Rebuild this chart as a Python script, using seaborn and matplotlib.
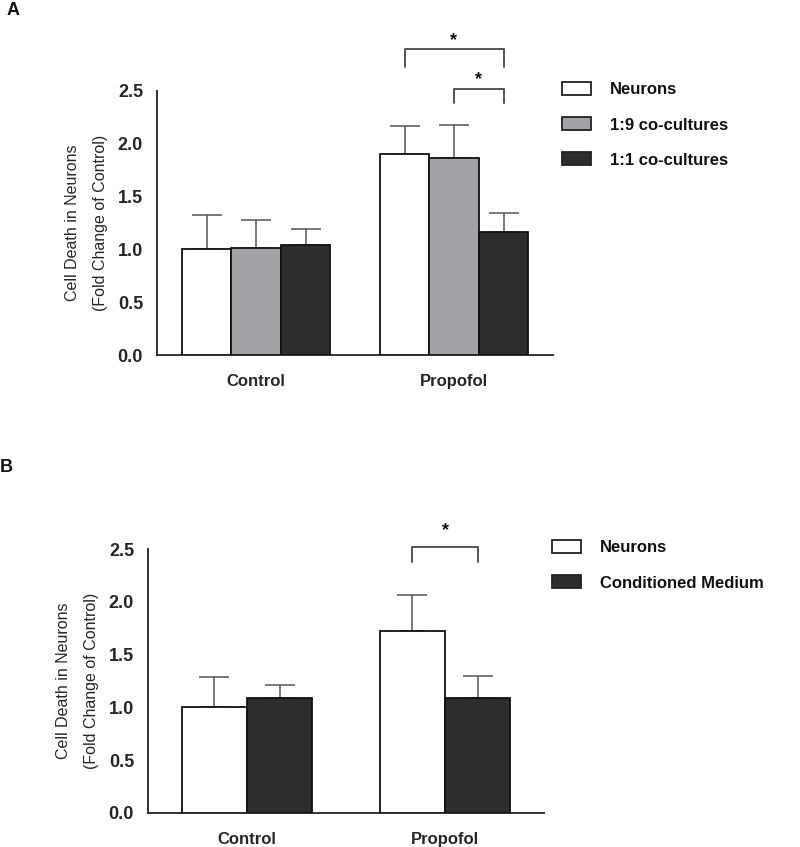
import numpy as np
import pandas as pd
import matplotlib
matplotlib.use("Agg")
import matplotlib.pyplot as plt
import seaborn as sns
from matplotlib.patches import Patch
from matplotlib.container import BarContainer

# ---------------- data ----------------
groups = ["Control", "Propofol"]

types_a = ["Neurons", "1:9 co-cultures", "1:1 co-cultures"]
a_neurons = [1.00, 1.90]
a_neurons_err = [0.32, 0.265]
a_co19 = [1.01, 1.865]
a_co19_err = [0.27, 0.315]
a_co11 = [1.04, 1.165]
a_co11_err = [0.155, 0.175]

types_b = ["Neurons", "Conditioned Medium"]
b_neurons = [1.00, 1.72]
b_neurons_err = [0.29, 0.345]
b_cm = [1.09, 1.085]
b_cm_err = [0.12, 0.215]

yticks = [0.0, 0.5, 1.0, 1.5, 2.0, 2.5]
ytick_labels = ["0.0", "0.5", "1.0", "1.5", "2.0", "2.5"]
ylabel = "Cell Death in Neurons\n(Fold Change of Control)"

colors_a = ["#ffffff", "#a3a3a7", "#2d2d2d"]
colors_b = ["#ffffff", "#2d2d2d"]

# significance brackets: (group index, hue i, hue j, top, leg bottom, star gap)
brackets_a = [(1, 0, 2, 2.89, 2.72, 0.0), (1, 1, 2, 2.52, 2.38, 0.0)]
brackets_b = [(1, 0, 1, 2.52, 2.38, 0.08)]

# ---------------- style ----------------
sns.set_style("white")
plt.rcParams["font.family"] = ["Liberation Sans", "DejaVu Sans"]
plt.rcParams["text.color"] = "#111111"

W, H = 800, 847
fig = plt.figure(figsize=(W / 100, H / 100), dpi=100)


def fig_rect(x0, y_top, x1, y_bot):
    return [x0 / W, 1 - y_bot / H, (x1 - x0) / W, (y_bot - y_top) / H]


axA = fig.add_axes(fig_rect(157, 90.7, 553, 355))
axB = fig.add_axes(fig_rect(148, 549.3, 544, 812.7))


def panel(ax, types, vals, errs, colors, width, brackets, legend_xy):
    rows = []
    for t, v in zip(types, vals):
        for g, val in zip(groups, v):
            rows.append({"group": g, "type": t, "value": val})
    df = pd.DataFrame(rows)
    sns.barplot(data=df, x="group", y="value", hue="type", order=groups,
                hue_order=types, palette=dict(zip(types, colors)),
                width=width, edgecolor="#111111", linewidth=1.3,
                errorbar=None, saturation=1, legend=False, zorder=3, ax=ax)

    bar_conts = [c for c in ax.containers if isinstance(c, BarContainer)]
    centers = []
    for i, cont in enumerate(bar_conts):
        row = []
        for j, bar in enumerate(cont.patches):
            x = bar.get_x() + bar.get_width() / 2
            h = bar.get_height()
            row.append(x)
            ax.errorbar(x, h, yerr=[[0], [errs[i][j]]], fmt="none",
                        ecolor="#555555", elinewidth=1.1, capsize=11,
                        capthick=1.1, zorder=2)
        centers.append(row)

    for g, hi, hj, top, leg, gap in brackets:
        x1 = centers[hi][g]
        x2 = centers[hj][g]
        ax.plot([x1, x1, x2, x2], [leg, top, top, leg], color="#555555",
                lw=1.4, clip_on=False, zorder=4)
        ax.text((x1 + x2) / 2, top + gap, "*", ha="center", va="bottom",
                fontsize=13, fontweight="bold", color="#111111", clip_on=False)

    ax.set_xlim(-0.5, 1.5)
    ax.set_ylim(0, 2.5)
    ax.set_yticks(yticks)
    ax.set_yticklabels(ytick_labels, fontsize=13, fontweight="bold")
    ax.set_xticks(range(len(groups)))
    ax.set_xticklabels(groups, fontsize=12, fontweight="bold")
    ax.set_xlabel("")
    ax.set_ylabel(ylabel, fontsize=11.5, labelpad=7, linespacing=2.1)
    ax.tick_params(axis="x", length=0, pad=14)
    ax.tick_params(axis="y", length=5, width=1.3, pad=5, color="#333333")
    sns.despine(ax=ax)
    for s in ("left", "bottom"):
        ax.spines[s].set_linewidth(1.4)
        ax.spines[s].set_color("#333333")

    handles = [Patch(facecolor=c, edgecolor="#222222", linewidth=1.3) for c in colors]
    ax.legend(handles, types, loc="upper left",
              bbox_to_anchor=(legend_xy[0] / W, 1 - legend_xy[1] / H),
              bbox_transform=fig.transFigure, frameon=False, borderpad=0,
              handlelength=1.75, handleheight=0.85, handletextpad=1.1,
              labelspacing=1.18, borderaxespad=0,
              prop={"size": 12, "weight": "bold"})


panel(axA, types_a, [a_neurons, a_co19, a_co11],
      [a_neurons_err, a_co19_err, a_co11_err], colors_a, 0.75,
      brackets_a, (562, 82))
panel(axB, types_b, [b_neurons, b_cm], [b_neurons_err, b_cm_err],
      colors_b, 0.66, brackets_b, (552, 540))

fig.text(7 / W, 1 - 2 / H, "A", ha="left", va="top", fontsize=13, fontweight="bold")
fig.text(0 / W, 1 - 459 / H, "B", ha="left", va="top", fontsize=13, fontweight="bold")

fig.savefig("out.png", dpi=100)
